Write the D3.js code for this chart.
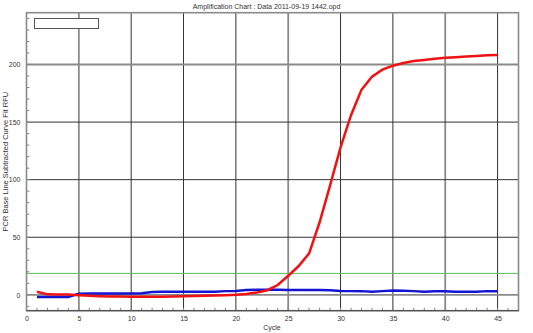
<!DOCTYPE html>
<html>
<head>
<meta charset="utf-8">
<script src="https://d3js.org/d3.v7.min.js"></script>
<style>
  body { margin: 0; background: #fff; }
  text { font-family: "Liberation Sans", Arial, sans-serif; fill: #333; }
</style>
</head>
<body>
<svg id="chart" width="533" height="333"></svg>
<script>
// chart values
const cycles = d3.range(1, 46);
const sampleRed = [2.6, 0.4, 0.3, 0.3, -0.3, -0.8, -1.2, -1.4, -1.5, -1.6,
                   -1.6, -1.6, -1.7, -1.5, -1.2, -1.0, -0.8, -0.6, -0.4, 0.0,
                   0.8, 2.0, 4.0, 8.5, 16.5, 25, 36, 63, 95, 128,
                   156, 178, 189.5, 195.5, 199, 201.3, 203, 204, 205, 205.8,
                   206.4, 207, 207.5, 208, 208.2];
const sampleBlue = [-2, -2, -2, -1.8, 1.0, 1.2, 1.2, 1.2, 1.2, 1.2,
                    1.4, 2.5, 2.6, 2.6, 2.6, 2.6, 2.6, 2.7, 3.2, 3.4,
                    4.2, 4.3, 4.3, 4.3, 4.2, 4.2, 4.2, 4.2, 4.0, 3.3,
                    3.2, 3.2, 2.6, 3.2, 3.8, 3.6, 3.2, 2.6, 3.0, 3.0,
                    2.6, 2.6, 2.6, 3.2, 3.2];
const threshold = 18.6;
const xTicks = [0, 5, 10, 15, 20, 25, 30, 35, 40, 45];
const yTicks = [0, 50, 100, 150, 200];
const titleText = "Amplification Chart : Data 2011-09-19 1442.opd";

const svg = d3.select("#chart");
const x = d3.scaleLinear().domain([0, 47]).range([26.5, 518.5]);
const y = d3.scaleLinear().domain([-13.8, 245]).range([310.7, 12.7]);

// gridlines that look softer (grey, blurred) in the original
const softX = [5, 25, 40];
const softY = [0, 200];

const grid = svg.append("g");
grid.selectAll("line.vx").data(xTicks.filter(d => d > 0)).join("line")
  .attr("class", "vx")
  .attr("x1", d => x(d)).attr("x2", d => x(d))
  .attr("y1", y.range()[1]).attr("y2", y.range()[0])
  .attr("stroke", d => softX.includes(d) ? "#8a8a8a" : "#333")
  .attr("stroke-width", d => softX.includes(d) ? 1.8 : 1);
grid.selectAll("line.hy").data(yTicks).join("line")
  .attr("class", "hy")
  .attr("x1", x.range()[0]).attr("x2", x.range()[1])
  .attr("y1", d => y(d)).attr("y2", d => y(d))
  .attr("stroke", d => softY.includes(d) ? "#8a8a8a" : "#333")
  .attr("stroke-width", d => softY.includes(d) ? 1.8 : 1);

// minor ticks
svg.append("g").selectAll("line").data(d3.range(1, 47)).join("line")
  .attr("x1", d => x(d)).attr("x2", d => x(d))
  .attr("y1", y.range()[0]).attr("y2", y.range()[0] - 3)
  .attr("stroke", "#888");
svg.append("g").selectAll("line").data(d3.range(-10, 241, 10)).join("line")
  .attr("x1", x.range()[0]).attr("x2", x.range()[0] + 3)
  .attr("y1", d => y(d)).attr("y2", d => y(d))
  .attr("stroke", "#888");

// threshold
svg.append("line")
  .attr("x1", x.range()[0]).attr("x2", x.range()[1])
  .attr("y1", y(threshold)).attr("y2", y(threshold))
  .attr("stroke", "#55c055").attr("stroke-width", 1);

// frame
svg.append("rect")
  .attr("x", x.range()[0]).attr("y", y.range()[1])
  .attr("width", x.range()[1] - x.range()[0])
  .attr("height", y.range()[0] - y.range()[1])
  .attr("fill", "none").attr("stroke", "#8a8a8a").attr("stroke-width", 1.6);
svg.append("line")
  .attr("x1", x.range()[0]).attr("x2", x.range()[1])
  .attr("y1", y.range()[0]).attr("y2", y.range()[0])
  .attr("stroke", "#444").attr("stroke-width", 1);

// curves
const line = d3.line().x((d, i) => x(cycles[i])).y(d => y(d));
svg.append("path").datum(sampleBlue)
  .attr("d", line).attr("fill", "none")
  .attr("stroke", "#1414d2").attr("stroke-width", 2.5);
svg.append("path").datum(sampleRed)
  .attr("d", line).attr("fill", "none")
  .attr("stroke", "#f01212").attr("stroke-width", 2.5);

// axes
const xAxis = svg.append("g")
  .attr("transform", `translate(0,${y.range()[0]})`)
  .call(d3.axisBottom(x).tickValues(xTicks).tickSize(0).tickPadding(5));
const yAxis = svg.append("g")
  .attr("transform", `translate(${x.range()[0]},0)`)
  .call(d3.axisLeft(y).tickValues(yTicks).tickSize(0).tickPadding(6));
[xAxis, yAxis].forEach(a => {
  a.select(".domain").remove();
  a.selectAll("text").attr("font-size", 7).attr("font-family", null);
});

// legend box
svg.append("rect")
  .attr("x", 34.5).attr("y", 18.5).attr("width", 64).attr("height", 10)
  .attr("fill", "#fff").attr("stroke", "#555").attr("stroke-width", 1);

// titles
svg.append("text").attr("x", 266.5).attr("y", 8.5)
  .attr("text-anchor", "middle").attr("font-size", 7).text(titleText);
svg.append("text").attr("x", 272).attr("y", 330)
  .attr("text-anchor", "middle").attr("font-size", 7).text("Cycle");
svg.append("text")
  .attr("transform", `translate(8,${(y.range()[0] + y.range()[1]) / 2}) rotate(-90)`)
  .attr("text-anchor", "middle").attr("font-size", 7.5)
  .text("PCR Base Line Subtracted Curve Fit RFU");
</script>
</body>
</html>
